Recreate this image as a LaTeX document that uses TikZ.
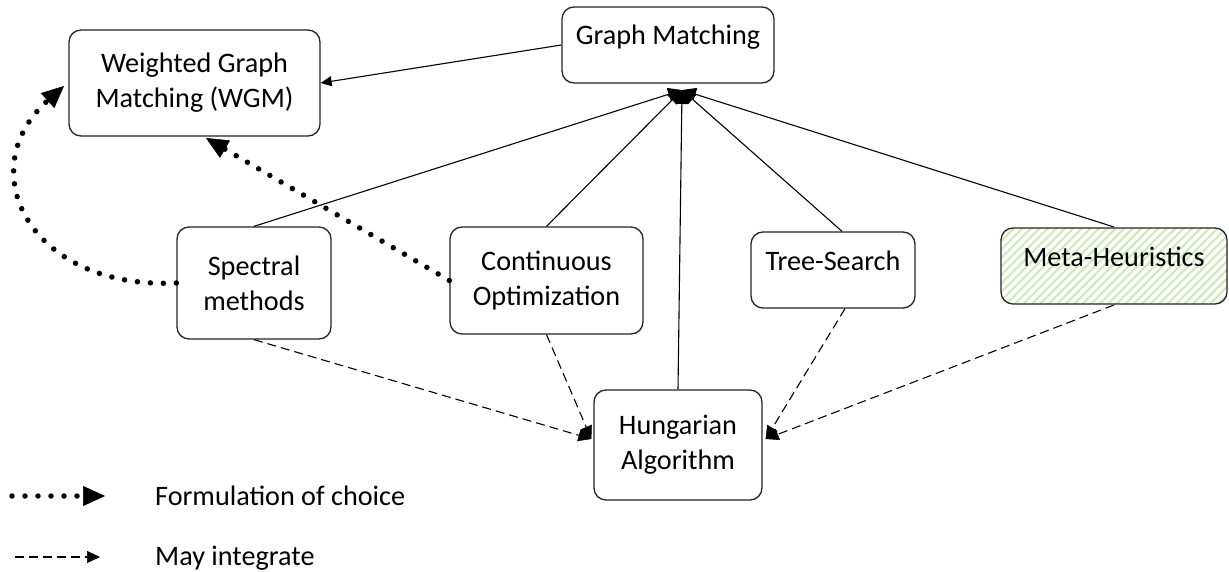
\documentclass[tikz,border=0pt]{standalone}
\usepackage{fontspec}
\setmainfont{Carlito}
\usetikzlibrary{arrows.meta,patterns.meta,calc}
\definecolor{hatch}{HTML}{CFE8B8}
\begin{document}
\begin{tikzpicture}[x=1pt,y=-1pt,
  every node/.style={font=\fontsize{28.2}{35}\selectfont},
  box/.style={draw=black!85,line width=1.3pt,rounded corners=12pt,fill=white,
    align=center,inner sep=0pt},
  oneline/.style={text height=0pt,text depth=0pt},
  link/.style={line width=1.1pt},
  hubtip/.style={-{Triangle[length=14pt,width=13pt]}},
  maylink/.style={line width=1.1pt,dash pattern=on 9pt off 5pt,
    -{Triangle[length=13pt,width=12pt,line width=0.5pt]}},
  choice/.style={line width=5.5pt,line cap=round,dash pattern=on 0pt off 13pt,
    -{Triangle[length=22pt,width=20pt,line width=0.5pt]}},
  legtext/.style={anchor=base west,inner sep=0pt}]
\fill[white] (0,0) rectangle (1229,572);
\useasboundingbox (0,0) rectangle (1229,572);

% boxes
\node[box,oneline,minimum width=212pt,minimum height=76pt] (gm) at (668,45) {Graph Matching};
\node[box,minimum width=251pt,minimum height=106pt] (wgm) at (194.5,83) {Weighted Graph\\Matching (WGM)};
\node[box,minimum width=154pt,minimum height=112pt] (spec) at (254,283) {Spectral\\methods};
\node[box,minimum width=193pt,minimum height=107pt] (cont) at (546.5,280.5) {Continuous\\Optimization};
\node[box,oneline,minimum width=164pt,minimum height=76pt] (tree) at (833,270) {Tree-Search};
\node[box,oneline,minimum width=226pt,minimum height=76pt,
  pattern={Lines[angle=45,distance=6pt,line width=2pt]},pattern color=hatch] (meta) at (1114,266) {Meta-Heuristics};
\node[box,minimum width=168pt,minimum height=110pt] (hung) at (678,445) {Hungarian\\Algorithm};

% meeting point of the specialisation links
\coordinate (hub) at (682,90);
\coordinate (hl) at ($(hung.west)+(-2,-6)$);
\coordinate (hr) at ($(hung.east)+(3,-6)$);

% Graph Matching -> WGM
\draw[link,-{Triangle[length=11pt,width=10pt]}] (gm.west) -- (wgm.east);

% approaches linked to Graph Matching
\draw[link,hubtip] (spec.north) -- (hub);
\draw[link,hubtip] (cont.north) -- (hub);
\draw[link,hubtip] (hung.north) -- (hub);
\draw[link,hubtip] ($(tree.north)+(9,0)$) -- (hub);
\draw[link,hubtip] (meta.north) -- (hub);

% may integrate
\draw[maylink] (spec.south) -- (hl);
\draw[maylink] (cont.south) -- (hl);
\draw[maylink] ($(tree.south)+(12,0)$) -- (hr);
\draw[maylink] (meta.south) -- (hr);

% formulation of choice
\coordinate (wgmleft) at (64,86);
\coordinate (wgmbottom) at (206,138);
\draw[choice] (spec.west) .. controls (30,290) and (-30,170) .. (wgmleft);
\draw[choice] (cont.west) -- (wgmbottom);

% legend
\coordinate (la) at (12,496);
\coordinate (lb) at (105,496);
\coordinate (ma) at (15,557);
\coordinate (mb) at (100,557);
\draw[choice] (la) -- (lb);
\draw[maylink] (ma) -- (mb);
\node[legtext] (lt1) at (155,505) {Formulation of choice};
\node[legtext] (lt2) at (155,565) {May integrate};
\end{tikzpicture}
\end{document}
